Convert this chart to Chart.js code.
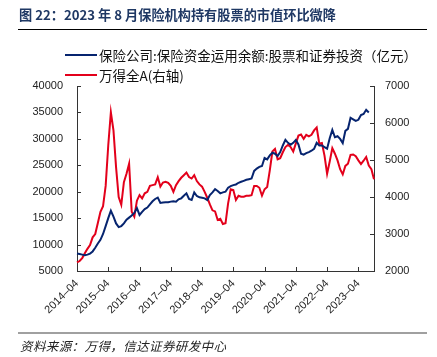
<!DOCTYPE html>
<html><head><meta charset="utf-8">
<script src="https://cdn.jsdelivr.net/npm/chart.js@4.4.1/dist/chart.umd.min.js"></script>
<style>
html,body{margin:0;padding:0;background:#fff;}
#wrap{position:relative;width:437px;height:357px;overflow:hidden;font-family:"Noto Sans CJK SC","Noto Sans",sans-serif;}
#c{position:absolute;left:0;top:0;}
.title{position:absolute;left:19px;top:5px;font-size:13.2px;font-weight:bold;color:#1f3864;white-space:nowrap;line-height:20px;}
.tline{position:absolute;left:18px;top:29px;width:409px;height:1px;background:#000;}
.lg{position:absolute;left:65px;width:32px;height:2px;}
.lt{position:absolute;left:99px;font-size:13.5px;color:#111;white-space:nowrap;line-height:16px;}
.fline{position:absolute;left:18px;top:332px;width:409px;height:2px;background:#a0a0a0;}
.src{position:absolute;left:20px;top:338px;font-size:12.5px;letter-spacing:0.4px;font-style:italic;color:#222;white-space:nowrap;line-height:16px;}
</style></head>
<body>
<div id="wrap">
<canvas id="c" width="437" height="357"></canvas>
<div class="title">图 22：2023 年 8 月保险机构持有股票的市值环比微降</div>
<div class="tline"></div>
<div class="lg" style="top:54px;background:#06246f"></div>
<div class="lt" style="top:47px">保险公司:保险资金运用余额:股票和证券投资（亿元）</div>
<div class="lg" style="top:74px;background:#e3001b"></div>
<div class="lt" style="top:67px">万得全A(右轴)</div>
<div class="fline"></div>
<div class="src">资料来源：万得，信达证券研发中心</div>
</div>
<script>
// categories: monthly, 2014-04 .. 2023-10
const months = [];
for (let y = 2014, m = 4; months.length < 115; ) {
  months.push(y + '-' + String(m).padStart(2, '0'));
  m++; if (m > 12) { m = 1; y++; }
}
const insuranceStock = [
8300,8200,8100,8000,8100,8300,8700,9400,10200,10900,
12000,13500,15000,16400,15300,14000,13300,13500,14000,14700,
15100,15500,16000,16900,15600,16200,16700,17000,17600,18190,
18625,18875,17875,17940,18000,18000,18125,18190,18125,18560,
18750,19250,19690,18625,18440,19875,19190,18940,18875,18750,
18440,19375,19875,20500,20125,19690,19875,20000,20750,21060,
21250,21375,21690,21875,22060,22250,22375,22500,23940,24375,
24690,24875,26375,26125,26875,27375,27190,26750,27500,28750,
29800,29250,28875,29250,29800,28940,27200,27000,27300,27500,
27750,28100,29250,28750,28750,28440,28125,30100,31700,30300,
30500,30000,29200,31500,31900,34000,33700,33400,33600,34500,
34700,35500,35000
];
const windAllA = [
2230,2270,2350,2480,2600,2700,2910,3000,3300,3600,
3750,4300,5400,6290,5800,4800,4000,3790,4400,4630,
4900,3600,3470,3900,4050,3960,4100,4140,4300,4320,
4340,4535,4280,4390,4410,4380,4300,4140,4320,4430,
4520,4590,4660,4540,4500,4590,4430,4340,4280,4140,
3980,3800,3640,3610,3380,3410,3270,3290,3830,4210,
4190,3920,4035,4010,4010,4035,4035,4050,4300,4300,
4250,4035,4210,4270,4720,5230,5300,5020,5050,5210,
5350,5410,5350,5230,5450,5660,5690,5570,5680,5640,
5680,5800,5880,5440,5460,5120,4630,4960,5320,5170,
4990,4750,4610,4840,4900,5140,5150,5100,4990,4890,
4980,5080,4850,4750,4480
];
const leftTicks = {min: 5000, max: 40000, step: 5000};
const rightTicks = {min: 2000, max: 7000, step: 1000};

const AXIS = '#333';
const innerTicks = {
  id: 'innerTicks',
  afterDatasetsDraw(chart) {
    const ctx = chart.ctx, a = chart.chartArea;
    ctx.save();
    ctx.strokeStyle = AXIS; ctx.lineWidth = 1;
    ctx.beginPath();
    const y = chart.scales.y, y1 = chart.scales.y1, x = chart.scales.x;
    y.ticks.forEach((t, i) => { const p = Math.round(y.getPixelForTick(i)) + 0.5; ctx.moveTo(a.left, p); ctx.lineTo(a.left + 4, p); });
    y1.ticks.forEach((t, i) => { const p = Math.round(y1.getPixelForTick(i)) + 0.5; ctx.moveTo(a.right - 4, p); ctx.lineTo(a.right, p); });
    months.forEach((m, i) => { if (i % 12 === 0) { const p = Math.round(x.getPixelForValue(i)) + 0.5; ctx.moveTo(p, a.bottom); ctx.lineTo(p, a.bottom - 4); } });
    ctx.stroke();
    ctx.restore();
  }
};

const tickFont = {family: '"Liberation Sans", Arial, sans-serif', size: 11};
const plain = v => String(v);
new Chart(document.getElementById('c'), {
  type: 'line',
  data: {
    labels: months,
    datasets: [
      {label: '保险公司:保险资金运用余额:股票和证券投资（亿元）', data: insuranceStock, yAxisID: 'y', borderColor: '#06246f', backgroundColor: '#06246f', borderWidth: 2, pointRadius: 0, tension: 0},
      {label: '万得全A(右轴)', data: windAllA, yAxisID: 'y1', borderColor: '#e3001b', backgroundColor: '#e3001b', borderWidth: 2, pointRadius: 0, tension: 0}
    ]
  },
  options: {
    responsive: false,
    animation: false,
    devicePixelRatio: 1,
    layout: {padding: {left: 0, right: 0, top: 86, bottom: 0}},
    plugins: {legend: {display: false}, tooltip: {enabled: false}},
    scales: {
      x: {
        type: 'category',
        offset: false,
        afterFit: s => { s.height = 86; },
        grid: {drawOnChartArea: false, drawTicks: false},
        border: {display: true, color: AXIS, width: 1},
        ticks: {
          autoSkip: false, maxRotation: 45, minRotation: 45, padding: 6,
          font: tickFont, color: '#222',
          callback: (v, i) => (i % 12 === 0 ? months[i].replace('-', '–') : null)
        }
      },
      y: {
        position: 'left', min: leftTicks.min, max: leftTicks.max,
        afterFit: s => { s.width = 77; },
        grid: {drawOnChartArea: false, drawTicks: false},
        border: {display: true, color: AXIS, width: 1},
        ticks: {stepSize: leftTicks.step, padding: 14, font: tickFont, color: '#222', callback: plain}
      },
      y1: {
        position: 'right', min: rightTicks.min, max: rightTicks.max,
        afterFit: s => { s.width = 63; },
        grid: {drawOnChartArea: false, drawTicks: false},
        border: {display: true, color: AXIS, width: 1},
        ticks: {stepSize: rightTicks.step, padding: 11, font: tickFont, color: '#222', callback: plain}
      }
    }
  },
  plugins: [innerTicks]
});
</script>
</body></html>
